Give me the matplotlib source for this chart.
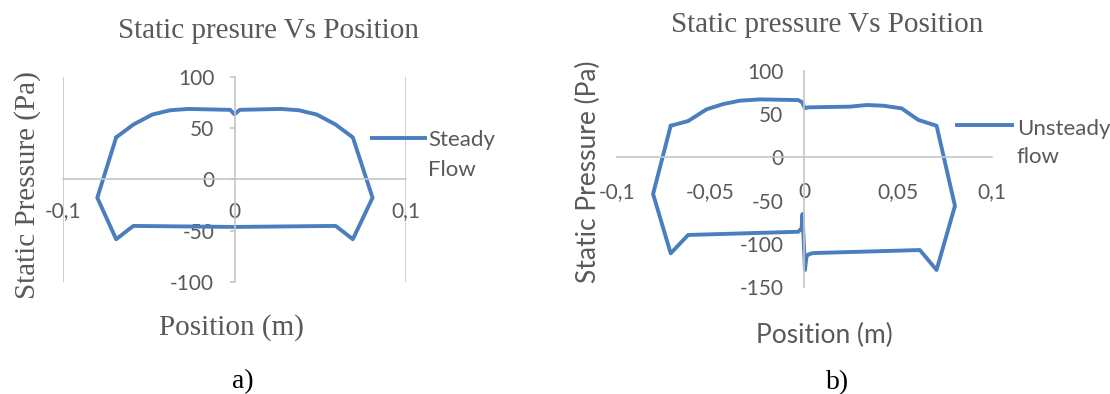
# coding=utf-8
"""
Presion estatica vs posicion: flujo estacionario y no estacionario
"""

import matplotlib
matplotlib.use('Agg')
import matplotlib.pyplot as plt

# Datos: flujo estacionario (contorno cerrado)
x_steady = [-0.069, -0.059, -0.048, -0.0375, -0.027, -0.0025, 0.0, 0.003, 0.027,
            0.0375, 0.048, 0.059, 0.069, 0.0805, 0.069, 0.059, 0.0, -0.059,
            -0.069, -0.08, -0.069]
p_steady = [41, 53.5, 63.3, 67.5, 68.8, 67.9, 63.5, 67.9, 68.8,
            67.5, 63.3, 53.5, 41, -18, -58.5, -45.5, -46.5, -45.5,
            -58.5, -18, 41]

# Datos: flujo no estacionario (contorno cerrado)
x_unsteady = [-0.0712, -0.0619, -0.0521, -0.0432, -0.0343, -0.0237, -0.0032,
              -0.0012, 0.0004, 0.002, 0.0244, 0.0333, 0.0422, 0.052, 0.0609,
              0.0706, 0.0804, 0.0706, 0.0617, 0.0046, 0.0021, 0.0012, 0.0004,
              -0.0009, -0.0014, -0.0032, -0.0619, -0.0712, -0.0806, -0.0712]
p_unsteady = [36.5, 41.9, 55.4, 61.5, 65.4, 66.9, 66.1,
              63.8, 56.6, 57.7, 58.5, 60.4, 59.6, 56.5, 43.1,
              36.5, -56, -130, -107, -110.5, -112.2, -115, -130,
              -65.4, -82, -85.9, -89.6, -110.8, -42.3, 36.5]

# Ejes
xticks_a = [-0.1, 0.0, 0.1]
xlabels_a = ['-0,1', '0', '0,1']
yticks_a = [100, 50, 0, -50, -100]
xticks_b = [-0.1, -0.05, 0.0, 0.05, 0.1]
xlabels_b = ['-0,1', '-0,05', '0', '0,05', '0,1']
yticks_b = [100, 50, 0, -50, -100, -150]

BLUE = '#4A7EBF'
GRAY = '#595959'
AXC = '#C6C6C6'
SERIF = 'Liberation Serif'
SANS = 'Lato'

fig = plt.figure(figsize=(11.1, 3.94), dpi=100)
W, H = 1110.0, 394.0


def px_axes(x0, x1, ytop, ybot):
    """Crea ejes a partir de coordenadas en pixeles"""
    return fig.add_axes([x0 / W, (H - ybot) / H, (x1 - x0) / W, (ybot - ytop) / H])


def style_axes(ax, xticks, xlabels, yticks, fs, xpad, ypad, ylen):
    for s in ['top', 'right']:
        ax.spines[s].set_visible(False)
    for s in ['left', 'bottom']:
        ax.spines[s].set_position(('data', 0))
        ax.spines[s].set_color(AXC)
        ax.spines[s].set_linewidth(1.2)
    ax.set_xticks(xticks)
    ax.set_xticklabels(xlabels)
    ax.set_yticks(yticks)
    ax.set_yticklabels([str(v) for v in yticks])
    ax.tick_params(axis='x', length=0, pad=xpad, labelsize=fs, labelcolor=GRAY)
    ax.tick_params(axis='y', length=ylen, width=1.2, color=AXC, pad=ypad,
                   labelsize=fs, labelcolor=GRAY)
    for t in ax.get_xticklabels() + ax.get_yticklabels():
        t.set_fontfamily(SANS)
    ax.patch.set_visible(False)


# ---- a) flujo estacionario ----
ax1 = px_axes(63, 406, 77, 281.7)
ax1.set_xlim(-0.1, 0.1)
ax1.set_ylim(-100, 100)
for xv in [-0.1, 0.1]:
    ax1.axvline(xv, color=AXC, lw=1.2, zorder=0)
ax1.plot(x_steady, p_steady, color=BLUE, lw=2.8, solid_joinstyle='round',
         solid_capstyle='round', clip_on=False)
style_axes(ax1, xticks_a, xlabels_a, yticks_a, 15, 16, 11, 3.6)
ax1.set_title('Static presure Vs Position', fontfamily=SERIF, fontsize=21,
              color=GRAY, pad=28, x=0.598)
ax1.text(-0.102, 0.472, 'Static Pressure (Pa)', transform=ax1.transAxes,
         rotation=90, ha='center', va='center', fontfamily=SERIF, fontsize=21,
         color=GRAY)
ax1.text(0.49, -0.225, 'Position (m)', transform=ax1.transAxes, ha='center',
         va='center', fontfamily=SERIF, fontsize=21, color=GRAY)
ax1.text(0.525, -0.49, 'a)', transform=ax1.transAxes, ha='center',
         va='center', fontfamily=SERIF, fontsize=20, color='black')

# leyenda
ax1.plot([0.9, 1.055], [0.703, 0.703], transform=ax1.transAxes, color=BLUE,
         lw=2.8, clip_on=False)
ax1.text(1.064, 0.664, 'Steady', transform=ax1.transAxes, va='baseline',
         fontfamily=SANS, fontsize=16, color=GRAY)
ax1.text(1.064, 0.516, 'Flow', transform=ax1.transAxes, va='baseline',
         fontfamily=SANS, fontsize=16, color=GRAY)

# ---- b) flujo no estacionario ----
ax2 = px_axes(616.7, 991.7, 70.7, 287.3)
ax2.set_xlim(-0.1, 0.1)
ax2.set_ylim(-150, 100)
ax2.plot(x_unsteady, p_unsteady, color=BLUE, lw=2.8, solid_joinstyle='round',
         solid_capstyle='round', clip_on=False)
style_axes(ax2, xticks_b, xlabels_b, yticks_b, 15, 18, 15, 0)
ax2.set_title('Static pressure Vs Position', fontfamily=SERIF, fontsize=21,
              color=GRAY, pad=28, x=0.561)
ax2.text(-0.0765, 0.535, 'Static Pressure (Pa)', transform=ax2.transAxes,
         rotation=90, ha='center', va='center', fontfamily=SANS, fontsize=19,
         color=GRAY)
ax2.text(0.553, -0.222, 'Position (m)', transform=ax2.transAxes, ha='center',
         va='center', fontfamily=SANS, fontsize=19, color=GRAY)
ax2.text(0.59, -0.44, 'b)', transform=ax2.transAxes, ha='center',
         va='center', fontfamily=SERIF, fontsize=20, color='black')

ax2.plot([0.907, 1.053], [0.749, 0.749], transform=ax2.transAxes, color=BLUE,
         lw=2.8, clip_on=False)
ax2.text(1.067, 0.703, 'Unsteady', transform=ax2.transAxes, va='baseline',
         fontfamily=SANS, fontsize=16, color=GRAY)
ax2.text(1.067, 0.572, 'flow', transform=ax2.transAxes, va='baseline',
         fontfamily=SANS, fontsize=16, color=GRAY)

fig.savefig('out.png', dpi=100)
